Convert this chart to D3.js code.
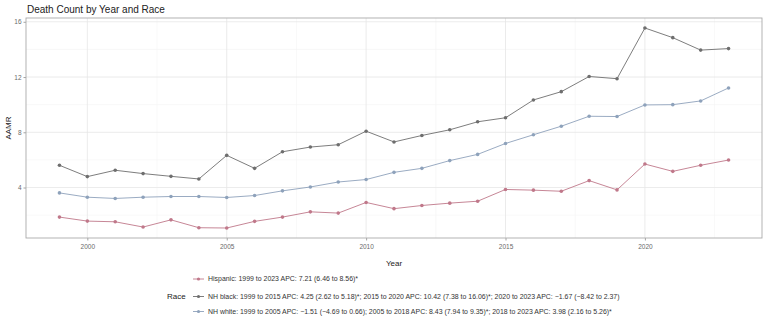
<!DOCTYPE html>
<html><head><meta charset="utf-8">
<script src="https://cdn.jsdelivr.net/npm/d3@7"></script>
<style>body{margin:0;background:#fff;}svg{display:block;font-family:"Liberation Sans",Arial,sans-serif;}</style>
</head><body><svg id="c" width="767" height="322"></svg>
<script>
const years = [1999,2000,2001,2002,2003,2004,2005,2006,2007,2008,2009,2010,2011,2012,2013,2014,2015,2016,2017,2018,2019,2020,2021,2022,2023];
const hispanic = [1.86,1.57,1.52,1.14,1.66,1.09,1.07,1.55,1.86,2.24,2.15,2.92,2.47,2.70,2.87,3.01,3.86,3.81,3.73,4.50,3.83,5.70,5.17,5.61,5.99];
const nhBlack = [5.61,4.79,5.25,5.01,4.81,4.62,6.33,5.39,6.59,6.93,7.10,8.08,7.30,7.77,8.18,8.76,9.05,10.34,10.94,12.04,11.88,15.55,14.85,13.95,14.06];
const nhWhite = [3.61,3.30,3.21,3.30,3.35,3.35,3.28,3.42,3.76,4.04,4.40,4.58,5.10,5.39,5.95,6.40,7.19,7.82,8.44,9.16,9.14,9.98,10.00,10.27,11.21];
const seriesNames = ["Hispanic","NH black","NH white"];
const legendLabels = [
 "Hispanic: 1999 to 2023 APC: 7.21 (6.46 to 8.56)*",
 "NH black: 1999 to 2015 APC: 4.25 (2.62 to 5.18)*; 2015 to 2020 APC: 10.42 (7.38 to 16.06)*; 2020 to 2023 APC: \u22121.67 (\u22128.42 to 2.37)",
 "NH white: 1999 to 2005 APC: \u22121.51 (\u22124.69 to 0.66); 2005 to 2018 APC: 8.43 (7.94 to 9.35)*; 2018 to 2023 APC: 3.98 (2.16 to 5.26)*"
];
const xTicks = [2000,2005,2010,2015,2020];
const yTicks = [4,8,12,16];
const colors = ["#c0788a","#6e6e6e","#8ea2bb"];

const svg = d3.select("#c");
const L=26,R=762,T=18,B=238;
const allVals = hispanic.concat(nhBlack,nhWhite);
const ymin=d3.min(allVals), ymax=d3.max(allVals), yr=ymax-ymin;
const x = d3.scaleLinear().domain([1999-1.2,2023+1.2]).range([L,R]);
const y = d3.scaleLinear().domain([ymin-0.05*yr,ymax+0.05*yr]).range([B,T]);

svg.append("text").attr("x",27).attr("y",13).attr("font-size",10).attr("fill","#222").text("Death Count by Year and Race");

const g = svg.append("g");
const xMinor = xTicks.map(d=>d-2.5).concat([2022.5]).filter(d=>d>x.domain()[0]&&d<x.domain()[1]);
const yMinor = [2,6,10,14];
g.selectAll(".xm").data(xMinor).enter().append("line").attr("x1",d=>x(d)).attr("x2",d=>x(d)).attr("y1",T).attr("y2",B).attr("stroke","#f4f4f4").attr("stroke-width",0.6);
g.selectAll(".ym").data(yMinor).enter().append("line").attr("y1",d=>y(d)).attr("y2",d=>y(d)).attr("x1",L).attr("x2",R).attr("stroke","#f4f4f4").attr("stroke-width",0.6);
g.selectAll(".xg").data(xTicks).enter().append("line").attr("x1",d=>x(d)).attr("x2",d=>x(d)).attr("y1",T).attr("y2",B).attr("stroke","#e6e6e6").attr("stroke-width",0.8);
g.selectAll(".yg").data(yTicks).enter().append("line").attr("y1",d=>y(d)).attr("y2",d=>y(d)).attr("x1",L).attr("x2",R).attr("stroke","#e6e6e6").attr("stroke-width",0.8);

const xa = svg.append("g").attr("transform",`translate(0,${B})`).call(d3.axisBottom(x).tickValues(xTicks).tickFormat(d3.format("d")).tickSize(2.5).tickPadding(3.5));
const ya = svg.append("g").attr("transform",`translate(${L},0)`).call(d3.axisLeft(y).tickValues(yTicks).tickSize(2.5).tickPadding(2));
[xa,ya].forEach(a=>{a.select(".domain").remove();a.selectAll("line").attr("stroke","#666").attr("stroke-width",0.6);a.selectAll("text").attr("font-size",6.5).attr("fill","#6a6a6a").attr("font-family","Liberation Sans, Arial, sans-serif");});

svg.append("rect").attr("x",L).attr("y",T).attr("width",R-L).attr("height",B-T).attr("fill","none").attr("stroke","#aaa").attr("stroke-width",0.9);

svg.append("text").attr("x",(L+R)/2).attr("y",266).attr("text-anchor","middle").attr("font-size",8).attr("fill","#222").text("Year");
svg.append("text").attr("transform",`translate(11,${(T+B)/2}) rotate(-90)`).attr("text-anchor","middle").attr("font-size",8).attr("fill","#222").text("AAMR");

const data=[hispanic,nhBlack,nhWhite];
const line = d3.line().x((d,i)=>x(years[i])).y(d=>y(d));
data.forEach((s,k)=>{
  svg.append("path").attr("d",line(s)).attr("fill","none").attr("stroke",colors[k]).attr("stroke-width",0.9);
  svg.append("g").selectAll("circle").data(s).enter().append("circle").attr("cx",(d,i)=>x(years[i])).attr("cy",d=>y(d)).attr("r",1.8).attr("fill",colors[k]);
});

const ly=[279,296.5,311.5];
svg.append("text").attr("x",167).attr("y",ly[1]+2.8).attr("font-size",8).attr("fill","#222").text("Race");
seriesNames.forEach((n,k)=>{
  svg.append("line").attr("x1",193).attr("x2",204).attr("y1",ly[k]).attr("y2",ly[k]).attr("stroke",colors[k]).attr("stroke-width",0.9);
  svg.append("circle").attr("cx",198.5).attr("cy",ly[k]).attr("r",1.6).attr("fill",colors[k]);
  svg.append("text").attr("x",208).attr("y",ly[k]+2.4).attr("font-size",6.95).attr("fill","#333").text(legendLabels[k]);
});
</script></body></html>
